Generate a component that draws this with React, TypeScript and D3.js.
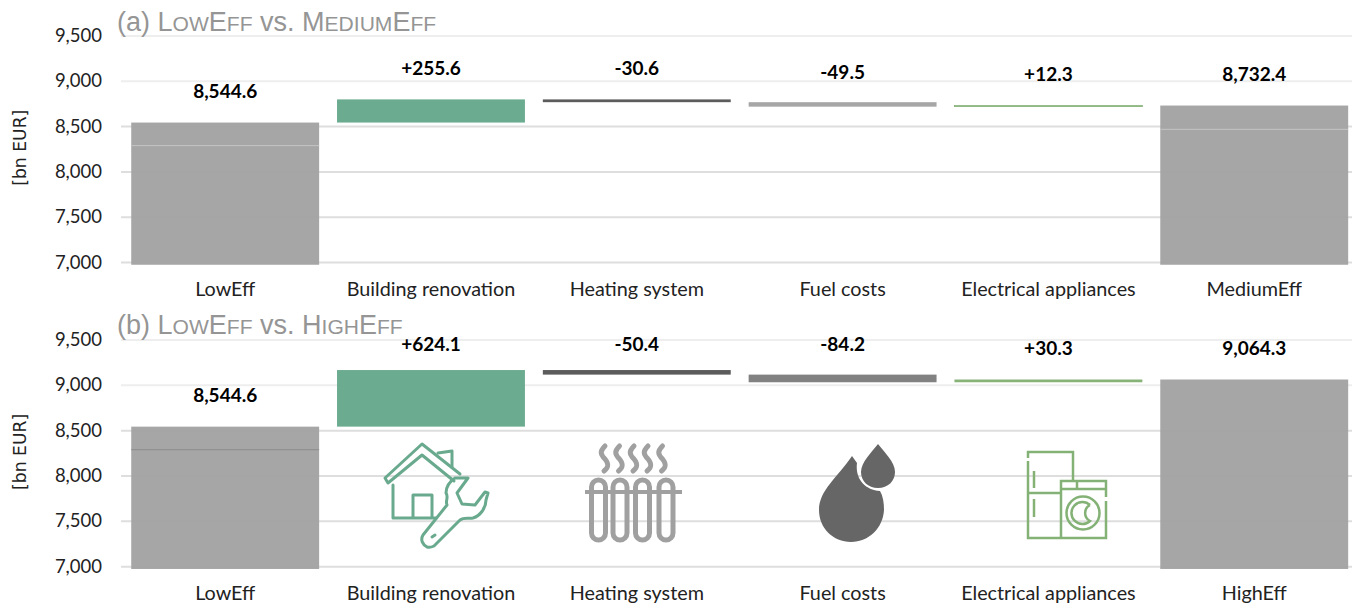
import React from "react";
import * as d3 from "d3";

const categoriesA = ["LowEff", "Building renovation", "Heating system", "Fuel costs", "Electrical appliances", "MediumEff"];
const categoriesB = ["LowEff", "Building renovation", "Heating system", "Fuel costs", "Electrical appliances", "HighEff"];
const valuesA = [8544.6, 255.6, -30.6, -49.5, 12.3, 8732.4];
const valuesB = [8544.6, 624.1, -50.4, -84.2, 30.3, 9064.3];
const labelsA = ["8,544.6", "+255.6", "-30.6", "-49.5", "+12.3", "8,732.4"];
const labelsB = ["8,544.6", "+624.1", "-50.4", "-84.2", "+30.3", "9,064.3"];
const yTicks = [7000, 7500, 8000, 8500, 9000, 9500];
const colorsA = ["#a2a2a2", "#65a88b", "#555555", "#a2a2a2", "#82b074", "#a2a2a2"];
const colorsB = ["#a2a2a2", "#65a88b", "#555555", "#7c7c7c", "#82b074", "#a2a2a2"];
const labelYA = [92, 69, 69, 73, 75, 75];
const labelYB = [396, 345, 345, 345, 349, 349];
const seamsA = [{ bar: 0, value: 8290 }, { bar: 5, value: 8470 }];
const seamsB = [{ bar: 0, value: 8290 }];

const BODY = "Lato, 'Open Sans', sans-serif";

function SmallCaps({ text, size }: { text: string; size: number }) {
  const parts = text.split(/([a-z]+)/).filter(Boolean);
  return (
    <>
      {parts.map((p, i) =>
        /^[a-z]+$/.test(p) ? (
          <tspan key={i} fontSize={size * 0.78}>{p.toUpperCase()}</tspan>
        ) : (
          <tspan key={i} fontSize={size}>{p}</tspan>
        )
      )}
    </>
  );
}

function Panel({ top, bottom, tag, title, titleY, cats, vals, labels, colors, labelY, seams, seam }: any) {
  const x = d3.scaleBand<string>().domain(d3.range(6).map(String)).range([123, 1356.4]).paddingInner(0.087).paddingOuter(0.04);
  const y = d3.scaleLinear().domain([7000, 9500]).range([bottom, top]);
  const bars: { y0: number; y1: number }[] = [];
  let run = 0;
  vals.forEach((v: number, i: number) => {
    if (i === 0 || i === 5) { bars.push({ y0: 6975, y1: v }); run = v; }
    else { bars.push({ y0: run, y1: run + v }); run += v; }
  });
  const size = 27;
  return (
    <g>
      {yTicks.map((t) => (
        <line key={t} x1={121} x2={1352} y1={y(t)} y2={y(t)} stroke={t >= 9000 ? "#eeeeee" : "#dedede"} strokeWidth={2} />
      ))}
      <text x={117} y={titleY} fontFamily="'Liberation Sans', Arial, sans-serif" fontSize={size} fill="#959595">
        <tspan>{tag} </tspan>
        <SmallCaps text={title[0]} size={size} />
        <tspan> vs. </tspan>
        <SmallCaps text={title[1]} size={size} />
      </text>
      {yTicks.map((t) => (
        <text key={t} x={102} y={y(t) + 6} textAnchor="end" fontFamily={BODY} fontSize={18.5} fill="#222">{d3.format(",")(t)}</text>
      ))}
      <text transform={`translate(26,${(top + bottom) / 2 - 1.5}) rotate(-90)`} textAnchor="middle" fontFamily="'DejaVu Sans', sans-serif" fontSize={17.2} fill="#222">[bn EUR]</text>
      {bars.map((b, i) => {
        const py = Math.min(y(b.y0), y(b.y1));
        const h = Math.abs(y(b.y0) - y(b.y1));
        const thin = h < 2;
        return <rect key={i} x={x(String(i))} width={x.bandwidth()} y={py} height={h} fill={colors[i]} fillOpacity={0.96} stroke={thin ? colors[i] : "none"} strokeWidth={thin ? 0.7 : 0} />;
      })}
      {seams.map((s: any, i: number) => (
        <line key={i} x1={x(String(s.bar))} x2={x(String(s.bar))! + x.bandwidth()} y1={y(s.value)} y2={y(s.value)} stroke={seam} strokeWidth={1} />
      ))}
      {labels.map((l: string, i: number) => (
        <text key={i} x={x(String(i))! + x.bandwidth() / 2} y={labelY[i] + 6} textAnchor="middle" fontFamily={BODY} fontWeight={700} fontSize={19} fill="#000">{l}</text>
      ))}
      {cats.map((c: string, i: number) => (
        <text key={i} x={x(String(i))! + x.bandwidth() / 2} y={bottom + 33} textAnchor="middle" fontFamily={BODY} fontSize={19.8} fill="#222">{c}</text>
      ))}
    </g>
  );
}

function HouseIcon() {
  const c = "#69aa8e";
  return (
    <g fill="none" stroke={c} strokeWidth={3} strokeLinejoin="round" strokeLinecap="round">
      <path d="M385,478 L422,444 L460,474 M385,478 L388,483 L422,455 L454,481" />
      <path d="M393,485 L393,518 L436,518" />
      <path d="M413,517 L413,495 L432,495 L432,517" />
      <path d="M438,453 L452,451 L452,467" />
      <path d="M468,478 L455,478 C449,482 446,487 446,493 C449,497 445,501 447,505 L423,535 C420,540 423,545 427,547 C430,548 432,547 434,546 L460,520 C464,517 469,519 473,518 C480,516 486,508 486,500 L488,493 L485,492 L475,505 L462,504 L457,493 Z" />
      <path d="M432,537 L435,535" />
    </g>
  );
}

function RadiatorIcon() {
  const c = "#a0a0a0";
  const xs = [598.5, 620, 642.5, 666];
  const steam = [605, 619.5, 634, 648, 662.5];
  return (
    <g fill="none" stroke={c}>
      {steam.map((sx, i) => (
        <path key={i} d={`M${sx},446 c-5,5 -5,8 0,13 c4,5 4,8 -1,12`} strokeWidth={5} strokeLinecap="round" />
      ))}
      <line x1={585} x2={682} y1={492} y2={492} strokeWidth={4} />
      {xs.map((xv, i) => (
        <rect key={i} x={xv - 7} y={480} width={14} height={60} rx={7} strokeWidth={5} />
      ))}
    </g>
  );
}

function DropsIcon() {
  return (
    <g fill="#666">
      <path d="M852,456 L857,463 C855,478 864,490 880,491 C883,496 884,503 884,510 C883,528 869,542 851,542 C833,542 819,528 819,510 C819,490 838,477 852,456 Z" />
      <path d="M878,444 C884,452 895,462 895,472 C895,481 888,488 878,488 C868,488 861,481 861,472 C861,462 872,452 878,444 Z" />
    </g>
  );
}

function AppliancesIcon() {
  const c = "#84b276";
  return (
    <g fill="none" stroke={c} strokeWidth={2.5}>
      <path d="M1028,458 L1028,452 L1073,452 L1073,481" />
      <path d="M1028,461 L1028,538 L1106,538 L1106,501 M1106,497 L1106,481 L1061,481 L1061,538" />
      <line x1={1028} x2={1061} y1={493} y2={493} />
      <line x1={1061} x2={1106} y1={489} y2={489} />
      <line x1={1077} x2={1077} y1={481} y2={489} />
      <line x1={1034} x2={1034} y1={471} y2={488} />
      <line x1={1034} x2={1034} y1={499} y2={517} />
      <circle cx={1083} cy={513} r={16.5} />
      <path d="M1090,505 A11,11 0 1 0 1090,521 A9,9 0 0 1 1090,505" />
    </g>
  );
}

export default function App() {
  return (
    <svg width={1360} height={608} style={{ position: "absolute", left: 0, top: 0, background: "#fff" }}>
      <Panel top={36} bottom={262.5} tag="(a)" title={["LowEff", "MediumEff"]} titleY={30.5} cats={categoriesA} vals={valuesA} labels={labelsA} colors={colorsA} labelY={labelYA} seams={seamsA} seam="#c4c4c4" />
      <Panel top={340} bottom={566.7} tag="(b)" title={["LowEff", "HighEff"]} titleY={334} cats={categoriesB} vals={valuesB} labels={labelsB} colors={colorsB} labelY={labelYB} seams={seamsB} seam="#8c8c8c" />
      <HouseIcon />
      <RadiatorIcon />
      <DropsIcon />
      <AppliancesIcon />
    </svg>
  );
}
